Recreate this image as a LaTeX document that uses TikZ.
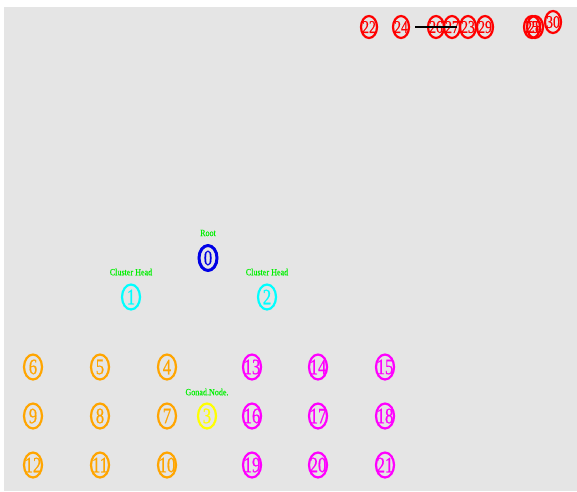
\documentclass[tikz,border=0pt]{standalone}
\usepackage{fontspec}
\usetikzlibrary{shapes.geometric}
\newfontfamily\numfont[FakeStretch=0.76,FakeBold=0.6]{Liberation Serif}
\newfontfamily\lblfont[FakeStretch=0.85,FakeBold=0.3]{Liberation Serif}
\newcommand{\zbox}[1]{\makebox[0pt]{#1}}
\definecolor{bggray}{RGB}{229,229,229}
\definecolor{ndred}{RGB}{255,0,0}
\definecolor{ndorange}{RGB}{255,165,0}
\definecolor{ndmag}{RGB}{255,0,255}
\definecolor{ndcyan}{RGB}{0,255,255}
\definecolor{ndyellow}{RGB}{255,255,0}
\definecolor{ndblue}{RGB}{0,0,230}
\definecolor{lblgreen}{RGB}{0,240,0}
\tikzset{
  x=1pt, y=-1pt,
  bignd/.style={ellipse, draw, inner sep=0pt, line width=2.2pt,
    minimum width=18pt, minimum height=25pt,
    font={\numfont\fontsize{22pt}{22pt}\selectfont}},
  smallnd/.style={ellipse, draw, inner sep=0pt, line width=2.2pt,
    minimum width=16pt, minimum height=22pt,
    font={\numfont\fontsize{18pt}{18pt}\selectfont}},
  rootnd/.style={bignd, draw=ndblue, text=ndblue, line width=3pt},
  headnd/.style={bignd, draw=ndcyan, text=ndcyan},
  gonnd/.style={bignd, draw=ndyellow, text=ndyellow},
  ornd/.style={bignd, draw=ndorange, text=ndorange},
  magnd/.style={bignd, draw=ndmag, text=ndmag},
  rednd/.style={smallnd, draw=ndred, text=ndred},
  lbl/.style={inner sep=0pt, text=lblgreen, font={\lblfont\fontsize{9.5pt}{9.5pt}\selectfont}},
  link/.style={line width=2.5pt, black}
}
\begin{document}
\begin{tikzpicture}
\useasboundingbox (0,0) rectangle (577,491);
\fill[bggray] (4,7) rectangle (577,491);

% labels
\node[lbl] (lroot) at (208,233) {Root};
\node[lbl] (lch1) at (131,272) {Cluster Head};
\node[lbl] (lch2) at (267,272) {Cluster Head};
\node[lbl] (lgon) at (207,392) {Gonad.Node.};

% root and heads
\node[rootnd] (n0) at (208,258) {\zbox{0}};
\node[headnd] (n1) at (131,297) {\zbox{1}};
\node[headnd] (n2) at (267,297) {\zbox{2}};
\node[gonnd] (n3) at (207,416) {\zbox{3}};

% orange cluster
\node[ornd] (n4) at (167,367) {\zbox{4}};
\node[ornd] (n5) at (100,367) {\zbox{5}};
\node[ornd] (n6) at (33,367) {\zbox{6}};
\node[ornd] (n7) at (167,416) {\zbox{7}};
\node[ornd] (n8) at (100,416) {\zbox{8}};
\node[ornd] (n9) at (33,416) {\zbox{9}};
\node[ornd] (n10) at (167,465) {\zbox{10}};
\node[ornd] (n11) at (100,465) {\zbox{11}};
\node[ornd] (n12) at (33,465) {\zbox{12}};

% magenta cluster
\node[magnd] (n13) at (252,367) {\zbox{13}};
\node[magnd] (n14) at (318,367) {\zbox{14}};
\node[magnd] (n15) at (385,367) {\zbox{15}};
\node[magnd] (n16) at (252,416) {\zbox{16}};
\node[magnd] (n17) at (318,416) {\zbox{17}};
\node[magnd] (n18) at (385,416) {\zbox{18}};
\node[magnd] (n19) at (252,465) {\zbox{19}};
\node[magnd] (n20) at (318,465) {\zbox{20}};
\node[magnd] (n21) at (385,465) {\zbox{21}};

% red nodes
\node[rednd] (n22) at (369,27) {\zbox{22}};
\node[rednd] (n23) at (468,27) {\zbox{23}};
\node[rednd] (n24) at (401,27) {\zbox{24}};
\node[rednd] (n25) at (532,27) {\zbox{25}};
\node[rednd] (n26) at (436,27) {\zbox{26}};
\node[rednd] (n27) at (452,27) {\zbox{27}};
\node[rednd] (n28) at (535,27) {\zbox{28}};
\node[rednd] (n29) at (485,27) {\zbox{29}};
\node[rednd] (n30) at (553,22) {\zbox{30}};

% link
\coordinate (ea) at (415,27);
\coordinate (eb) at (457,27);
\draw[link] (ea) -- (eb);
\end{tikzpicture}
\end{document}
